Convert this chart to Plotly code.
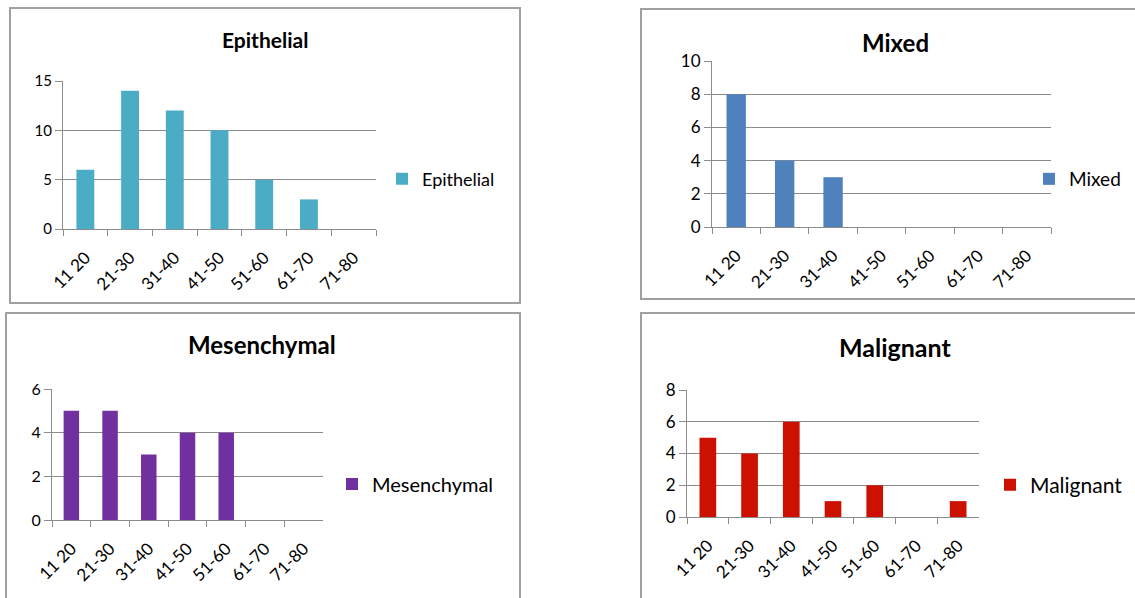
import plotly.graph_objects as go

W, H = 1135, 598

age_groups = ["11 20", "21-30", "31-40", "41-50", "51-60", "61-70", "71-80"]

epithelial = [6, 14, 12, 10, 5, 3, 0]
mixed = [8, 4, 3, 0, 0, 0, 0]
mesenchymal = [5, 5, 3, 4, 4, 0, 0]
malignant = [5, 4, 6, 1, 2, 0, 1]

names = ["Epithelial", "Mixed", "Mesenchymal", "Malignant"]
series = [epithelial, mixed, mesenchymal, malignant]
colors = ["#4bacc6", "#4f81bd", "#7030a0", "#cc1100"]
y_max = [15, 10, 6, 8]
y_step = [5, 2, 2, 2]

# layout in pixels (left, right, top, bottom) of plot area
plot_px = [(63, 376, 81, 229), (712, 1051, 61, 227), (52, 323, 389, 520), (687, 979, 390, 517)]
box_px = [(10, 520, 8, 303), (641, 1140, 9, 299), (6, 520, 313, 605), (641, 1140, 313, 605)]
title_px = [(265, 40), (895, 43), (262, 345), (895, 347)]
legend_text_px = [(425, 179), (1072, 179), (375, 484), (1033, 485)]
title_size = [21, 24, 24, 25]
legend_size = [18, 19, 20, 21]
ytick_size = [15, 17, 16, 17]
xtick_size = [17, 17, 17, 17]

FONT = "Lato"
GRID = "#8c8c8c"

def px(x):
    return x / W

def py(y):
    return 1 - y / H

fig = go.Figure()
shapes = []
annotations = []
layout = dict(width=W, height=H, margin=dict(l=0, r=0, t=0, b=0, autoexpand=False),
              paper_bgcolor="white", plot_bgcolor="white",
              font=dict(family=FONT, size=14, color="#000000"),
              bargap=0.6)

for i in range(4):
    k = "" if i == 0 else str(i + 1)
    leg = "legend" + k
    fig.add_trace(go.Bar(x=age_groups, y=series[i], name=names[i],
                         marker=dict(color=colors[i], line=dict(width=0)),
                         xaxis="x" + k, yaxis="y" + k, legend=leg,
                         showlegend=True))
    l, r, t, b = plot_px[i]
    layout["xaxis" + k] = dict(domain=[px(l), px(r)], anchor="y" + k,
                               type="category", tickson="boundaries",
                               ticks="outside", ticklen=6, tickcolor=GRID,
                               showline=True, linecolor=GRID, linewidth=1,
                               showgrid=False, tickangle=-45, automargin=False,
                               ticklabelstandoff=11,
                               tickfont=dict(size=xtick_size[i], family=FONT),
                               fixedrange=True)
    layout["yaxis" + k] = dict(domain=[py(b), py(t)], anchor="x" + k,
                               range=[0, y_max[i]], dtick=y_step[i],
                               ticks="outside", ticklen=7, tickcolor=GRID,
                               showline=True, linecolor=GRID, linewidth=1,
                               showgrid=True, gridcolor=GRID, gridwidth=1,
                               zeroline=False, automargin=False,
                               tickfont=dict(size=ytick_size[i], family=FONT),
                               fixedrange=True)
    lx, ly = legend_text_px[i]
    layout[leg] = dict(x=px(lx - 43), y=py(ly), xanchor="left", yanchor="middle",
                       bgcolor="rgba(0,0,0,0)",
                       font=dict(size=legend_size[i], family=FONT),
                       itemwidth=30, tracegroupgap=0)
    bl, br, bt, bb = box_px[i]
    shapes.append(dict(type="rect", xref="paper", yref="paper",
                       x0=px(bl), x1=px(br), y0=py(bb), y1=py(bt),
                       line=dict(color="#a0a0a0", width=2), layer="below"))
    tx, ty = title_px[i]
    annotations.append(dict(text="<b>" + names[i] + "</b>", xref="paper", yref="paper",
                            x=px(tx), y=py(ty), xanchor="center", yanchor="middle",
                            showarrow=False,
                            font=dict(size=title_size[i], family=FONT, color="#000000")))

layout["shapes"] = shapes
layout["annotations"] = annotations
fig.update_layout(**layout)
fig.write_html("out.html")
